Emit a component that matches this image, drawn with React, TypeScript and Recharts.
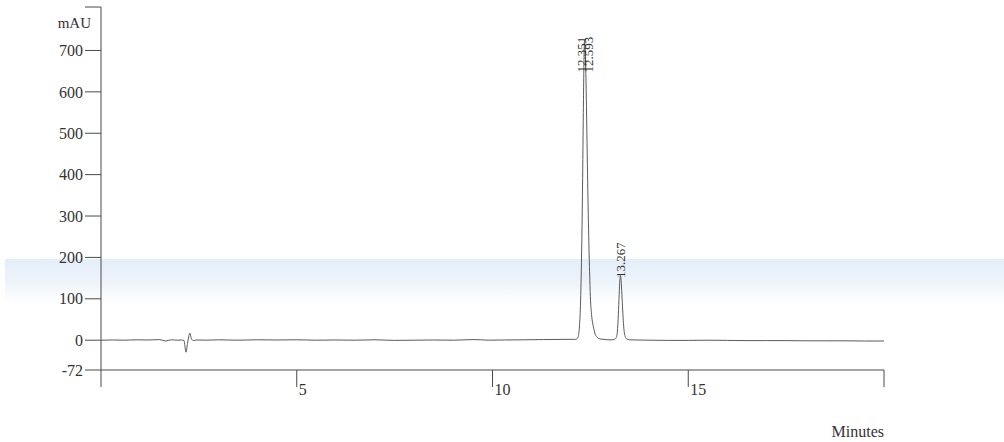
import { ComposedChart, Line, XAxis, YAxis, ReferenceDot } from 'recharts';

// retention time (min) and absorbance (mAU)
const signalTime = [
  0, 0.3, 0.6, 0.9, 1.2, 1.5, 1.65, 1.8, 1.95, 2.05, 2.12, 2.17, 2.21, 2.24, 2.27, 2.31, 2.36, 2.45, 2.7, 3.0,
  3.5, 4.0, 4.5, 5.0, 5.5, 6.0, 6.5, 7.0, 7.5, 8.0, 8.5, 9.0, 9.5, 9.7, 9.9, 10.3, 10.8, 11.3, 11.8, 12.0,
  12.1, 12.15, 12.18, 12.2, 12.22, 12.25, 12.28, 12.3, 12.32, 12.34, 12.351, 12.36, 12.38, 12.4, 12.42, 12.45,
  12.48, 12.5, 12.53, 12.56, 12.593, 12.62, 12.66, 12.7, 12.75, 12.85, 12.95, 13.05, 13.12, 13.16, 13.19, 13.21,
  13.23, 13.25, 13.267, 13.28, 13.3, 13.32, 13.34, 13.36, 13.39, 13.43, 13.5, 13.7, 14.0, 14.5, 15.0, 15.5,
  16.0, 16.5, 17.0, 17.5, 18.0, 18.5, 19.0, 19.5, 20.0,
];
const signalMau = [
  0, 0.5, 0, 1, 0.5, 1.5, -2, 1, 0, 0.5, -1, -29, -8, 8, 17, 3, -1, 0.5, 0, 1,
  0, 1, 0.5, 1, 0, 0.5, 0, 1, -0.5, 0, 0.5, 0, 1.5, 1, 0, 0.5, 1, 1.5, 2, 2,
  2, 3, 6, 14, 32, 95, 230, 370, 550, 695, 725, 718, 665, 565, 445, 285,
  165, 105, 62, 40, 26, 15, 9, 5, 3, 2, 1, 1, 2, 6, 22, 52,
  98, 140, 157, 150, 120, 82, 48, 24, 9, 3, 1, 0.5, 0, -0.5, -0.5, 0,
  -0.5, -1, -1, -1, -1.5, -1.5, -1.5, -2, -2,
];

// peak annotations: retention time and the height where the label starts
const peakTimes = [12.351, 12.593, 13.267];
const peakLabelAt = [647, 647, 150];

const xTicks = [0, 5, 10, 15, 20];
const xTickLabels = ['', '5', '10', '15', ''];
const yTicks = [-72, 0, 100, 200, 300, 400, 500, 600, 700, 805];

const data = signalTime.map((t, i) => ({ t, v: signalMau[i] }));

const INK = '#4a4a4a';
const TEXT = '#333333';
const FONT = '"Liberation Serif", "DejaVu Serif", serif';

function XTick(props: any) {
  const { x, y, payload, index } = props;
  const label = xTickLabels[index] ?? '';
  return (
    <g>
      <line x1={x} y1={y} x2={x} y2={y + 17} stroke={INK} strokeWidth={1} />
      {label && (
        <text x={x + 2} y={y + 25} fill={TEXT} fontSize={16} fontFamily={FONT}>
          {label}
        </text>
      )}
      {payload.value === 20 && (
        <text x={x} y={y + 67} textAnchor="end" fill={TEXT} fontSize={16} fontFamily={FONT}>
          Minutes
        </text>
      )}
    </g>
  );
}

function YTick(props: any) {
  const { x, y, payload } = props;
  if (payload.value === 805) {
    return (
      <text x={x + 8} y={y + 21} textAnchor="end" fill={TEXT} fontSize={15} fontFamily={FONT}>
        mAU
      </text>
    );
  }
  return (
    <text x={x} y={y} dy="0.355em" textAnchor="end" fill={TEXT} fontSize={16} fontFamily={FONT}>
      {payload.value}
    </text>
  );
}

function PeakLabel(text: string, shift: number) {
  return (props: any) => {
    const { cx, cy } = props;
    const px = cx + shift;
    return (
      <text
        x={px}
        y={cy}
        dy="0.35em"
        transform={`rotate(-90 ${px} ${cy})`}
        fill={TEXT}
        fontSize={13}
        fontFamily={FONT}
      >
        {text}
      </text>
    );
  };
}

// small sideways nudges so the two close labels do not overlap
const labelShift = [-3, -6, 0];

export default function App() {
  return (
    <div style={{ position: 'absolute', left: 0, top: 0, width: 1004, height: 442, background: '#fff' }}>
      {/* faint blue streak from the scanned page */}
      <div
        style={{
          position: 'absolute',
          left: 5,
          top: 259,
          width: 999,
          height: 44,
          background: 'linear-gradient(#e4eef8, #edf3fa 50%, rgba(255,255,255,0))',
        }}
      />
      <div style={{ position: 'absolute', left: 0, top: 0 }}>
        <ComposedChart width={1004} height={442} margin={{ top: 7, right: 120, bottom: 0, left: 0 }}>
          <XAxis
            dataKey="t"
            type="number"
            domain={[0, 20]}
            ticks={xTicks}
            interval={0}
            height={72}
            tickSize={0}
            tickMargin={0}
            tickLine={false}
            axisLine={{ stroke: INK }}
            tick={<XTick />}
            allowDataOverflow
          />
          <YAxis
            type="number"
            domain={[-72, 805]}
            ticks={yTicks}
            interval={0}
            width={101}
            tickSize={16}
            tickMargin={2}
            tickLine={{ stroke: INK }}
            axisLine={{ stroke: INK }}
            tick={<YTick />}
            allowDataOverflow
          />
          <Line
            data={data}
            dataKey="v"
            type="monotone"
            stroke="#5a5a5a"
            strokeWidth={1}
            dot={false}
            isAnimationActive={false}
          />
          {peakTimes.map((t, i) => (
            <ReferenceDot
              key={t}
              x={t}
              y={peakLabelAt[i]}
              r={0}
              shape={PeakLabel(t.toFixed(3), labelShift[i])}
              ifOverflow="visible"
            />
          ))}
        </ComposedChart>
      </div>
    </div>
  );
}
